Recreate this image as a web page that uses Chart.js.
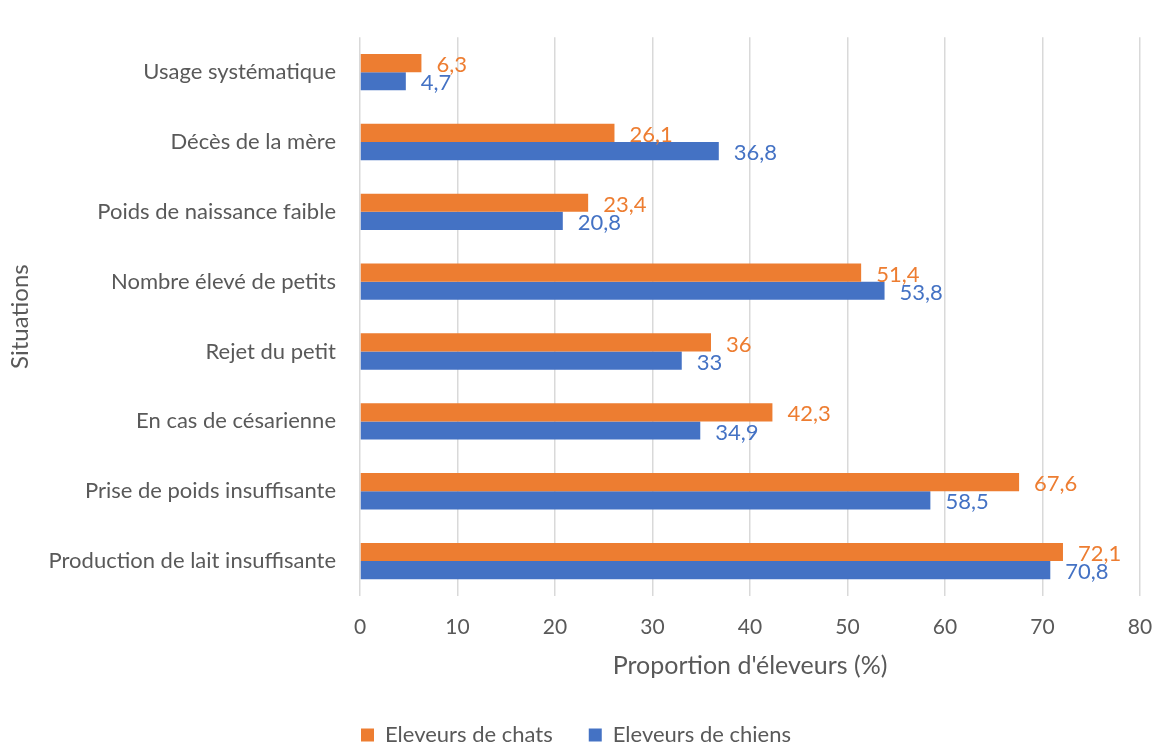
<!DOCTYPE html>
<html>
<head>
<meta charset="utf-8">
<script src="https://cdn.jsdelivr.net/npm/chart.js@4/dist/chart.umd.min.js"></script>
<style>
  html, body { margin: 0; padding: 0; background: #fff; }
  #wrap { width: 1152px; height: 745px; }
</style>
</head>
<body>
<div id="wrap"><canvas id="situationsChart" width="1152" height="745"></canvas></div>
<script>
// Situations, from top to bottom
const situations = [
  "Usage systématique",
  "Décès de la mère",
  "Poids de naissance faible",
  "Nombre élevé de petits",
  "Rejet du petit",
  "En cas de césarienne",
  "Prise de poids insuffisante",
  "Production de lait insuffisante"
];
const chats = [6.3, 26.1, 23.4, 51.4, 36, 42.3, 67.6, 72.1];
const chiens = [4.7, 36.8, 20.8, 53.8, 33, 34.9, 58.5, 70.8];
const xTicks = [0, 10, 20, 30, 40, 50, 60, 70, 80];

const FONT = "Lato, 'Open Sans', sans-serif";
const TEXT = "#595959";
const ORANGE = "#ED7D31";
const BLUE = "#4472C4";

// Value labels next to each bar, with a decimal comma
const valueLabels = {
  id: "valueLabels",
  afterDatasetsDraw(chart) {
    const ctx = chart.ctx;
    ctx.save();
    ctx.font = "22px " + FONT;
    ctx.textBaseline = "middle";
    ctx.textAlign = "left";
    chart.data.datasets.forEach((ds, i) => {
      const meta = chart.getDatasetMeta(i);
      ctx.fillStyle = ds.backgroundColor;
      meta.data.forEach((bar, j) => {
        const txt = String(ds.data[j]).replace(".", ",");
        ctx.fillText(txt, bar.x + 15, bar.y + 2);
      });
    });
    ctx.restore();
  }
};

document.addEventListener("DOMContentLoaded", function () {
  const ctx = document.getElementById("situationsChart").getContext("2d");
  new Chart(ctx, {
    type: "bar",
    data: {
      labels: situations,
      datasets: [
        {
          label: "Eleveurs de chats",
          data: chats,
          backgroundColor: ORANGE,
          borderWidth: 0,
          categoryPercentage: 0.52,
          barPercentage: 1
        },
        {
          label: "Eleveurs de chiens",
          data: chiens,
          backgroundColor: BLUE,
          borderWidth: 0,
          categoryPercentage: 0.52,
          barPercentage: 1
        }
      ]
    },
    options: {
      indexAxis: "y",
      responsive: false,
      animation: false,
      layout: { padding: { top: 17, right: 0, left: 0, bottom: -11 } },
      scales: {
        x: {
          min: 0,
          max: 80,
          afterBuildTicks: (axis) => {
            axis.ticks = xTicks.map((v) => ({ value: v }));
          },
          afterFit: (axis) => {
            axis.height = 92;
            axis.paddingLeft = 0;
            axis.paddingRight = 12;
          },
          grid: { color: "#d9d9d9", lineWidth: 1.5, drawTicks: false },
          border: { display: false },
          ticks: { color: TEXT, font: { family: FONT, size: 21 }, padding: 19 },
          title: {
            display: true,
            text: "Proportion d'éleveurs (%)",
            color: TEXT,
            font: { family: FONT, size: 25 },
            padding: { top: 0, bottom: 7 }
          }
        },
        y: {
          afterFit: (axis) => { axis.width = 360; },
          grid: { display: false, drawTicks: false },
          border: { display: false },
          ticks: { color: TEXT, font: { family: FONT, size: 22 }, padding: 24 },
          title: {
            display: true,
            text: "Situations",
            color: TEXT,
            font: { family: FONT, size: 24 },
            padding: { top: 6, bottom: 0 }
          }
        }
      },
      plugins: {
        legend: {
          position: "bottom",
          labels: {
            color: TEXT,
            font: { family: FONT, size: 22 },
            boxWidth: 13,
            boxHeight: 13,
            padding: 36
          }
        },
        tooltip: { enabled: false }
      }
    },
    plugins: [valueLabels]
  });
});
</script>
</body>
</html>
